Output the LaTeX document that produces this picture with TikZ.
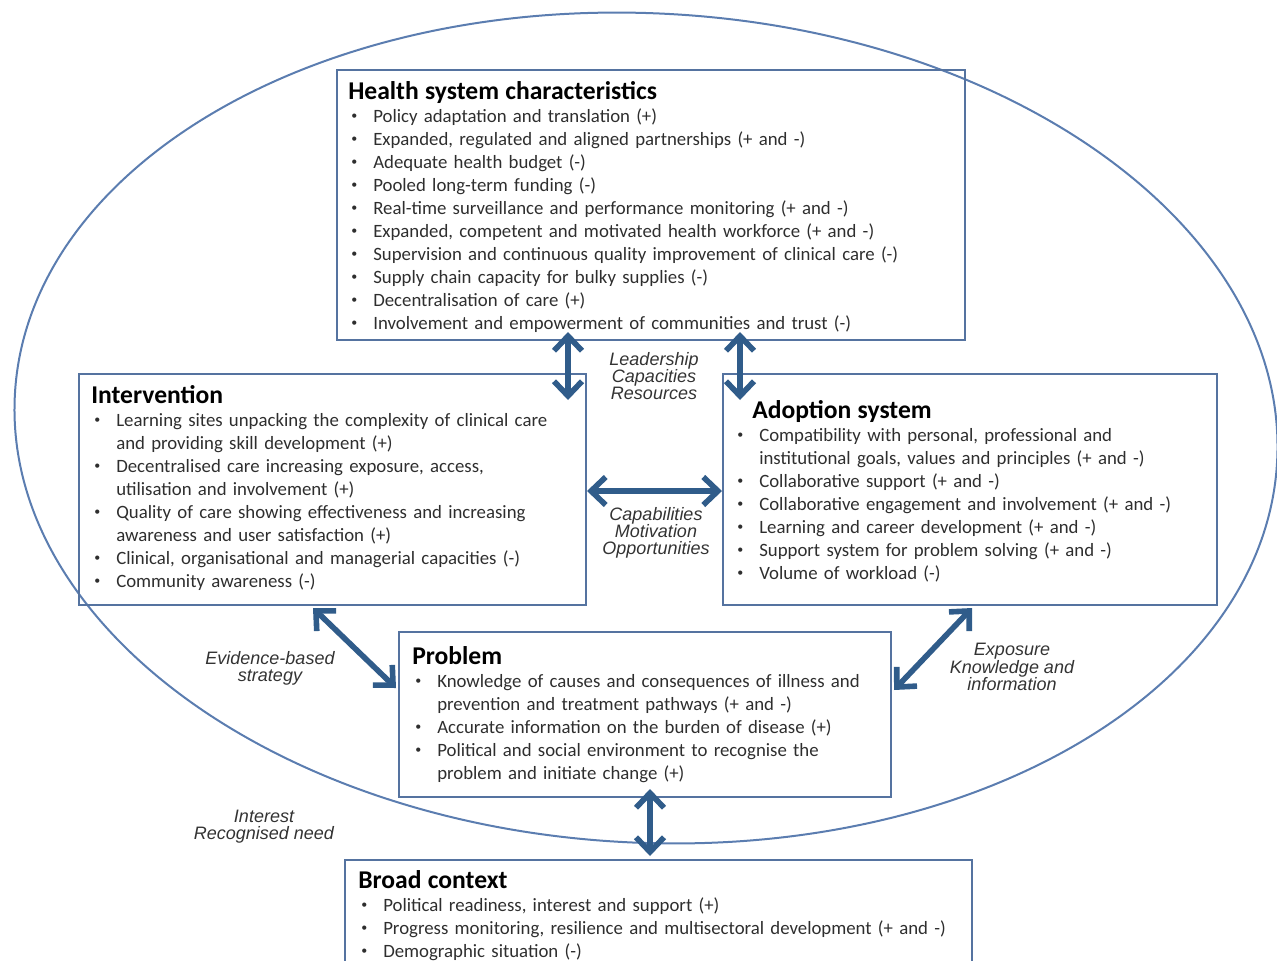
\documentclass[tikz,border=0pt]{standalone}
\usepackage{fontspec}
\setmainfont{Carlito}
\newfontfamily\tagfont{Liberation Sans}
\usetikzlibrary{arrows.meta,fit}
\definecolor{ringblue}{HTML}{5B7DB0}
\definecolor{boxblue}{HTML}{5573A0}
\definecolor{arrowblue}{HTML}{305C8A}
\definecolor{itemgray}{HTML}{2E2E2E}
\newcommand{\dotmark}{\raisebox{0.15em}{\fontsize{9}{9}\selectfont\textbullet}}
\newenvironment{points}{\begin{list}{\dotmark}{\setlength{\leftmargin}{18.75pt}\setlength{\labelsep}{12pt}\setlength{\labelwidth}{6.75pt}\setlength{\itemsep}{0pt}\setlength{\parsep}{0pt}\setlength{\topsep}{0pt}\setlength{\partopsep}{0pt}}}{\end{list}}
\newcommand{\boxtitle}[1]{{\color{black}\bfseries\fontsize{19.2}{20}\selectfont #1\par}}
\tikzset{
  sysbox/.style={draw=boxblue, line width=1.5pt, inner sep=0pt},
  body/.style={anchor=north west, inner sep=0pt, text width=#1, align=left, text=itemgray, font=\fontsize{14.1}{17.25}\selectfont},
  tag/.style={align=center, text=black!80, font=\tagfont\itshape\fontsize{13.5}{12.9}\selectfont},
  link/.style={draw=arrowblue, line width=4.2pt, {Straight Barb[length=11pt,width=21pt]}-{Straight Barb[length=11pt,width=21pt]}}
}
\begin{document}
\begin{tikzpicture}[x=0.75pt,y=-0.75pt]
    \useasboundingbox (0,0) rectangle (1277,960);
    \clip (0,0) rectangle (1277,960);
    \draw[ringblue, line width=1.5pt, rotate around={-3:(646,428)}] (646,428) ellipse [x radius=474pt, y radius=311pt];
    \node[sysbox, fit={(337,70) (965,340)}] (hsc) {};
    \node[sysbox, fit={(79,374) (586,605)}] (int) {};
    \node[sysbox, fit={(723,374) (1217,605)}] (adopt) {};
    \node[sysbox, fit={(399,632) (891,797)}] (prob) {};
    \node[sysbox, fit={(345,860) (972,990)}] (ctx) {};
    \node[body=470pt] (hsctext) at ([shift={(12,12)}]hsc.north west) {\boxtitle{Health system characteristics}
      \begin{points}
        \item Policy adaptation and translation (+)
        \item Expanded, regulated and aligned partnerships (+ and -)
        \item Adequate health budget (-)
        \item Pooled long-term funding (-)
        \item Real-time surveillance and performance monitoring (+ and -)
        \item Expanded, competent and motivated health workforce (+ and -)
        \item Supervision and continuous quality improvement of clinical care (-)
        \item Supply chain capacity for bulky supplies (-)
        \item Decentralisation of care (+)
        \item Involvement and empowerment of communities and trust (-)
      \end{points}};
    \node[body=380pt] (inttext) at ([shift={(13,12)}]int.north west) {\boxtitle{Intervention}
      \begin{points}
        \item Learning sites unpacking the complexity of clinical care\newline and providing skill development (+)
        \item Decentralised care increasing exposure, access,\newline utilisation and involvement (+)
        \item Quality of care showing effectiveness and increasing\newline awareness and user satisfaction (+)
        \item Clinical, organisational and managerial capacities (-)
        \item Community awareness (-)
      \end{points}};
    \node[body=370pt] (adopttext) at ([shift={(12,27)}]adopt.north west) {\boxtitle{\hspace*{13.5pt}Adoption system}
      \begin{points}
        \item Compatibility with personal, professional and\newline institutional goals, values and principles (+ and -)
        \item Collaborative support (+ and -)
        \item Collaborative engagement and involvement (+ and -)
        \item Learning and career development (+ and -)
        \item Support system for problem solving (+ and -)
        \item Volume of workload (-)
      \end{points}};
    \node[body=370pt] (probtext) at ([shift={(14,15)}]prob.north west) {\boxtitle{Problem}
      \begin{points}
        \item Knowledge of causes and consequences of illness and\newline prevention and treatment pathways (+ and -)
        \item Accurate information on the burden of disease (+)
        \item Political and social environment to recognise the\newline problem and initiate change (+)
      \end{points}};
    \node[body=470pt] (ctxtext) at ([shift={(14,11)}]ctx.north west) {\boxtitle{Broad context}
      \begin{points}
        \item Political readiness, interest and support (+)
        \item Progress monitoring, resilience and multisectoral development (+ and -)
        \item Demographic situation (-)
      \end{points}};
    \draw[link] ([shift={(-83,-9)}]hsc.south) -- ([shift={(235.5,27)}]int.north);
    \draw[link] ([shift={(89,-9)}]hsc.south) -- ([shift={(-230,27)}]adopt.north);
    \draw[link] ([shift={(0,1.5)}]int.east) -- ([shift={(0,1.5)}]adopt.west);
    \draw[link] ([shift={(-19.5,2)}]int.south) -- ([shift={(-2,-26.5)}]prob.west);
    \draw[link] ([shift={(2,2)}]adopt.south) -- ([shift={(2,-24.5)}]prob.east);
    \draw[link] ([shift={(5,-9)}]prob.south) -- ([shift={(-8.5,-3)}]ctx.north);
    \node[tag] (lead) at (654,376) {Leadership\\Capacities\\Resources};
    \node[tag] (capab) at (656,533) {Capabilities\\Motivation\\Opportunities};
    \node[tag] (evid) at (270,668) {Evidence-based\\strategy};
    \node[tag] (expo) at (1012,667) {Exposure\\Knowledge and\\information};
    \node[tag] (need) at (264,827) {Interest\\Recognised need};
\end{tikzpicture}
\end{document}
